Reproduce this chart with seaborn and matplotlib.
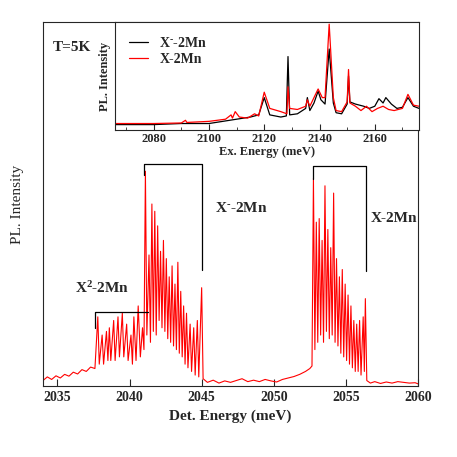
import numpy as np
import pandas as pd
import matplotlib
matplotlib.use('Agg')
import matplotlib.pyplot as plt
import seaborn as sns

sns.set_style('ticks')
plt.rcParams['font.family'] = ['Liberation Serif', 'DejaVu Serif']
plt.rcParams['font.weight'] = 'bold'
plt.rcParams['xtick.direction'] = 'in'
plt.rcParams['mathtext.fontset'] = 'custom'
plt.rcParams['mathtext.rm'] = 'Liberation Serif:bold'
plt.rcParams['mathtext.bf'] = 'Liberation Serif:bold'
plt.rcParams['mathtext.default'] = 'rm'

# main PL spectrum (det. energy, intensity)
det_energy = [2034.0, 2034.3, 2034.6, 2034.9, 2035.2, 2035.5, 2035.8, 2036.1, 2036.4, 2036.7, 2037.0, 2037.3, 2037.6,
              2037.8, 2037.9, 2038.1, 2038.2, 2038.4, 2038.5, 2038.6, 2038.7, 2038.9, 2039.0, 2039.2, 2039.3, 2039.5, 2039.6,
              2039.8, 2039.9, 2040.1, 2040.2, 2040.3, 2040.45, 2040.6, 2040.75, 2040.9, 2041.0,
              2041.1, 2041.2, 2041.35, 2041.45, 2041.55, 2041.65, 2041.75, 2041.85, 2041.95, 2042.05, 2042.15, 2042.25,
              2042.35, 2042.45, 2042.55, 2042.65, 2042.75, 2042.85, 2042.95, 2043.05, 2043.15, 2043.25, 2043.35, 2043.45,
              2043.55, 2043.65, 2043.75, 2043.85, 2043.95, 2044.05, 2044.2, 2044.3, 2044.45, 2044.55, 2044.7, 2044.8,
              2045.0, 2045.1,
              2045.4, 2045.8, 2046.2, 2046.6, 2047.0, 2047.4, 2047.8, 2048.2, 2048.6, 2049.0, 2049.4, 2049.8, 2050.2,
              2050.6, 2051.0, 2051.4, 2051.8, 2052.2, 2052.5, 2052.65,
              2052.75, 2052.85, 2052.95, 2053.05, 2053.15, 2053.25, 2053.35, 2053.45, 2053.55, 2053.65, 2053.75, 2053.85,
              2053.95, 2054.05, 2054.15, 2054.25, 2054.35, 2054.45, 2054.55, 2054.65, 2054.75, 2054.85, 2054.95, 2055.05,
              2055.15, 2055.25, 2055.35, 2055.45, 2055.55, 2055.65, 2055.75, 2055.85, 2055.95, 2056.05, 2056.2, 2056.28,
              2056.35, 2056.45,
              2056.7, 2057.0, 2057.4, 2057.8, 2058.2, 2058.6, 2059.0, 2059.4, 2059.8, 2060.0]
pl_intensity = [1.5, 2.5, 1.8, 2.8, 2.2, 3.2, 2.7, 3.8, 3.3, 4.5, 4.0, 5.2, 4.8,
                19, 6, 14, 6, 15, 7, 16, 7, 18, 7, 19, 8, 20, 8,
                17, 7, 14, 6, 19, 7, 22, 8, 16, 10,
                59, 14, 36, 12, 50, 15, 48, 14, 44, 18, 37, 16,
                40, 15, 35, 13, 30, 12, 33, 11, 28, 10, 34, 9,
                26, 8, 22, 6, 20, 5, 17, 4, 16, 3, 18, 2.5,
                27, 2,
                1.0, 1.6, 0.8, 1.4, 1.0, 1.5, 2.0, 1.2, 1.6, 1.2, 1.8, 1.4, 1.1,
                1.8, 2.2, 2.6, 3.2, 4.0, 4.8, 5.5,
                57, 10, 45, 12, 46, 14, 40, 12, 55, 15, 43, 13,
                38, 14, 53, 12, 35, 11, 30, 9, 32, 8, 28, 7,
                25, 6, 22, 5, 18, 4, 17, 4, 18, 3, 19, 4,
                24, 1.5,
                0.8, 1.2, 0.7, 1.1, 0.8, 1.2, 1.0, 0.8, 0.9, 0.6]

# inset PLE spectra
ex_black = [2066, 2080, 2090, 2100, 2105, 2110, 2115, 2118, 2120, 2122, 2126, 2128, 2128.6, 2129.2, 2132, 2135,
            2135.6, 2136.5, 2138, 2139.5, 2140.5, 2142, 2143.5, 2145, 2146, 2148, 2150, 2150.5, 2151, 2153, 2156,
            2158, 2160, 2161.5, 2163, 2164, 2166, 2168, 2170, 2172, 2174, 2176]
int_black = [5, 5, 6, 6, 8, 10, 12, 14, 30, 14, 12, 13, 68, 14, 15, 20,
             30, 18, 25, 36, 28, 24, 75, 25, 16, 15, 24, 50, 26, 24, 22,
             20, 22, 29, 25, 30, 24, 20, 21, 30, 22, 20]
ex_red = [2066, 2080, 2090, 2091.5, 2092, 2100, 2106, 2108, 2108.5, 2109.5, 2111, 2114, 2116.5, 2118, 2120, 2122,
          2126, 2128.2, 2128.6, 2129.2, 2132, 2135, 2135.6, 2136.5, 2138, 2139.5, 2141, 2142, 2143.5, 2145, 2146,
          2148, 2150, 2150.5, 2151, 2153, 2155, 2157, 2159, 2161, 2163, 2165, 2167, 2170, 2172, 2174, 2176]
int_red = [6, 6, 6.5, 9, 7, 8, 10, 14, 11, 17, 12, 11, 15, 13, 35, 20,
           17, 15, 40, 20, 19, 22, 28, 22, 30, 38, 30, 30, 98, 30, 18,
           17, 26, 56, 25, 22, 18, 22, 17, 20, 22, 19, 18, 20, 33, 23, 22]

fig = plt.figure(figsize=(4.57, 4.57), dpi=100)
ax = fig.add_axes([43 / 457, 71 / 457, 375 / 457, 364 / 457])
main = pd.DataFrame({'E': det_energy, 'I': pl_intensity})
sns.lineplot(data=main, x='E', y='I', color='red', lw=0.8, ax=ax, sort=False)
ax.set_xlim(2034, 2060)
ax.set_ylim(0, 100)
ax.set_xticks([2035, 2040, 2045, 2050, 2055, 2060])
ax.set_yticks([])
ax.set_xlabel('Det. Energy (meV)', fontsize=11, fontweight='bold')
ax.set_ylabel('PL. Intensity', fontsize=11, fontweight='normal', labelpad=14)
ax.tick_params(labelsize=10, length=5, top=False)

# brackets
ax.plot([2041.0, 2041.0, 2045.0, 2045.0], [58, 61, 61, 32], color='k', lw=0.9)
ax.plot([2052.75, 2052.75, 2056.4, 2056.4], [57, 60.4, 60.4, 31.7], color='k', lw=0.9)
ax.plot([2037.6, 2037.6, 2041.3], [15.8, 20.2, 20.2], color='k', lw=0.9)
ax.text(2045.9, 49, 'X$^{\\text{-}}$-2Mn', fontsize=11, fontweight='bold', va='center')
ax.text(2056.7, 46, 'X-2Mn', fontsize=11, fontweight='bold', va='center')
ax.text(2036.2, 27, 'X$^{2}$-2Mn', fontsize=11, fontweight='bold', va='center')
ax.text(0.025, 0.93, 'T=5K', transform=ax.transAxes, fontsize=11, fontweight='bold', va='center')

ins = fig.add_axes([115 / 457, 327 / 457, 304 / 457, 108 / 457])
sns.lineplot(x=ex_black, y=int_black, color='black', lw=0.9, ax=ins, sort=False, label='X$^{\\text{-}}$-2Mn')
sns.lineplot(x=ex_red, y=int_red, color='red', lw=0.9, ax=ins, sort=False, label='X-2Mn')
ins.set_xlim(2066, 2176)
ins.set_ylim(0, 100)
ins.set_xticks([2080, 2100, 2120, 2140, 2160])
ins.set_xticks(range(2070, 2176, 10), minor=True)
ins.set_yticks([])
ins.tick_params(labelsize=9, length=4, pad=2)
ins.tick_params(which='minor', length=2.5, direction='in')
ins.set_xlabel('Ex. Energy (meV)', fontsize=9, fontweight='bold', labelpad=1)
ins.set_ylabel('PL. Intensity', fontsize=9, fontweight='bold', labelpad=3)
ins.legend(loc='upper left', frameon=False, handlelength=1.4, borderaxespad=0.6,
           labelspacing=0.2, prop={'weight': 'bold', 'size': 10})

fig.savefig('out.png', dpi=100)
